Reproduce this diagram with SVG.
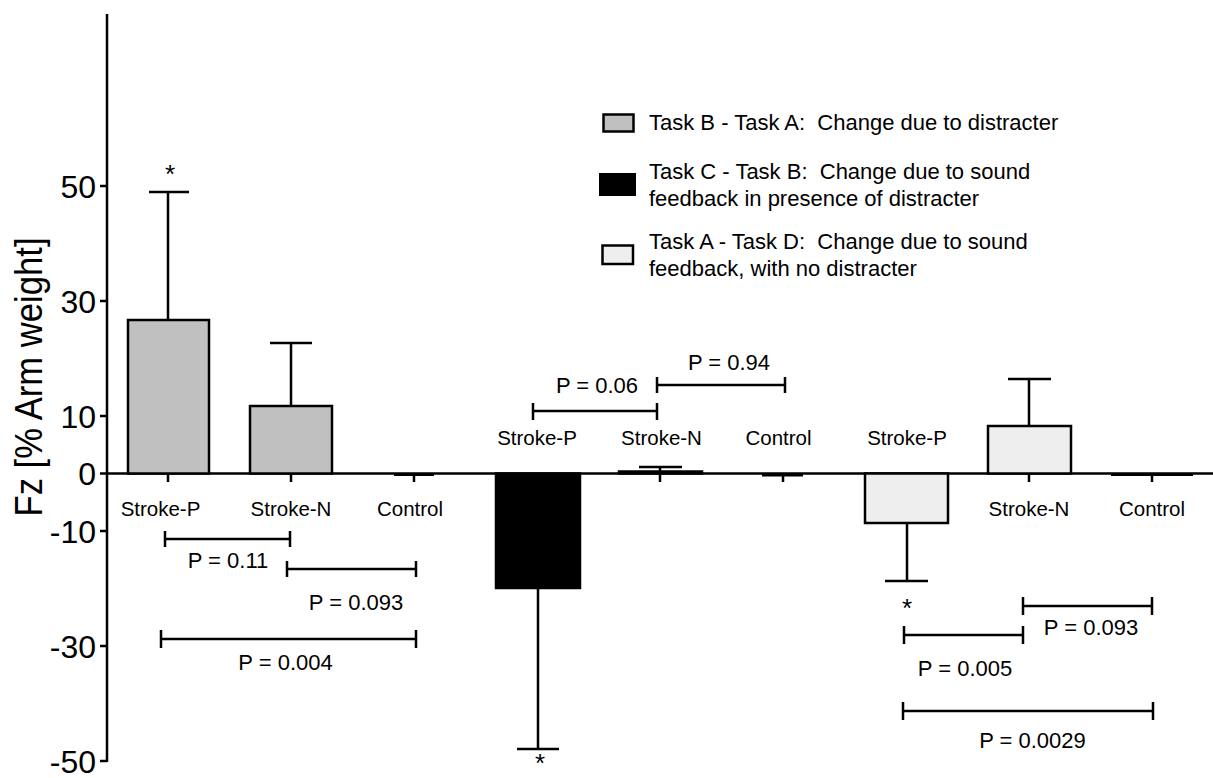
<svg xmlns="http://www.w3.org/2000/svg" width="1213" height="778" viewBox="0 0 1213 778">
<style>
text{font-family:"Liberation Sans",Arial,sans-serif;fill:#000}
.yl{font-size:32px;text-anchor:end}
.cat{font-size:20.5px;text-anchor:middle}
.pv{font-size:22px;text-anchor:middle}
.lg{font-size:22px}
.ast{font-size:26px;text-anchor:middle}
.ax{stroke:#000;stroke-width:2.5;fill:none}
.bar{stroke:#000;stroke-width:2.5}
.eb{stroke:#000;stroke-width:2.5;fill:none}
.br{stroke:#000;stroke-width:2.5;fill:none}
.g{fill:#c0c0c0}
.k{fill:#000}
.l{fill:#eeeeee}
</style>
<rect width="1213" height="778" fill="#fff"/>
<g id="axes">
<path class="ax" d="M107 14V762M107 473.5H1213"/>
<path class="ax" d="M100 186H107M100 301H107M100 416H107M100 473.5H107M100 531H107M100 646H107M100 761H107"/>
<path class="ax" d="M168 473V482M291 473V482M414 473V482M538 473V482M660 473V482M783 473V482M907 473V482M1029 473V482M1152 473V482"/>
<text class="yl" x="96" y="197.5">50</text>
<text class="yl" x="96" y="312.5">30</text>
<text class="yl" x="96" y="427.5">10</text>
<text class="yl" x="96" y="485">0</text>
<text class="yl" x="96" y="542.5">-10</text>
<text class="yl" x="96" y="657.5">-30</text>
<text class="yl" x="96" y="772.5">-50</text>
<text x="42" y="377" transform="rotate(-90 42 377)" style="font-size:39px;text-anchor:middle" textLength="279" lengthAdjust="spacingAndGlyphs">Fz [% Arm weight]</text>
</g>
<g id="group1">
<rect class="bar g" x="128" y="320" width="81" height="153.5"/>
<path class="eb" d="M168 320V192M149 192H189"/>
<text class="ast" x="170" y="183">*</text>
<rect class="bar g" x="250" y="406" width="82" height="67.5"/>
<path class="eb" d="M291 406V343M270 343H312"/>
<path class="eb" d="M394 474.5H434" style="stroke-width:3"/>
<text class="cat" x="160.5" y="516">Stroke-P</text>
<text class="cat" x="291" y="516">Stroke-N</text>
<text class="cat" x="410" y="516">Control</text>
</g>
<g id="group2">
<rect class="bar k" x="496" y="473.5" width="84" height="114.5"/>
<path class="eb" d="M538 588V749M517 749H559"/>
<text class="ast" x="540" y="772">*</text>
<rect class="bar" x="619" y="471.5" width="83" height="2" fill="#fff"/>
<path class="eb" d="M660 471V467M639 467H682"/>
<path class="eb" d="M762 475H803" style="stroke-width:3"/>
<text class="cat" x="537" y="445">Stroke-P</text>
<text class="cat" x="661.5" y="445">Stroke-N</text>
<text class="cat" x="778.5" y="445">Control</text>
</g>
<g id="group3">
<rect class="bar l" x="865" y="473.5" width="83" height="49.5"/>
<path class="eb" d="M907 523V581M885 581H928"/>
<text class="ast" x="907" y="617">*</text>
<rect class="bar l" x="988" y="426" width="83" height="47.5"/>
<path class="eb" d="M1029 426V379M1008 379H1051"/>
<path class="eb" d="M1111 474.5H1193" style="stroke-width:3"/>
<text class="cat" x="907" y="445">Stroke-P</text>
<text class="cat" x="1029" y="516">Stroke-N</text>
<text class="cat" x="1152" y="516">Control</text>
</g>
<g id="connectors">
<path class="br" d="M165 539H290M165 531V547M290 531V547"/>
<path class="br" d="M287 569H416M287 561V577M416 561V577"/>
<path class="br" d="M161 639H416M161 630V648M416 630V648"/>
<path class="br" d="M533 411H657M533 403V420M657 403V420"/>
<path class="br" d="M657 385H785M657 377V393M785 377V393"/>
<path class="br" d="M1023 606H1152M1023 597V615M1152 597V615"/>
<path class="br" d="M904 635H1023M904 626V644M1023 626V644"/>
<path class="br" d="M903 711H1153M903 702V720M1153 702V720"/>
</g>
<g id="pvalues">
<text class="pv" x="228" y="568">P = 0.11</text>
<text class="pv" x="356" y="610">P = 0.093</text>
<text class="pv" x="285.5" y="670">P = 0.004</text>
<text class="pv" x="597" y="393">P = 0.06</text>
<text class="pv" x="729" y="370">P = 0.94</text>
<text class="pv" x="1091" y="635">P = 0.093</text>
<text class="pv" x="965" y="676">P = 0.005</text>
<text class="pv" x="1032.5" y="748">P = 0.0029</text>
</g>
<g id="legend">
<rect class="bar g" x="603.5" y="114.5" width="30" height="17"/>
<text class="lg" x="649" y="130" xml:space="preserve">Task B - Task A:  Change due to distracter</text>
<rect x="599" y="173" width="37" height="23" fill="#000"/>
<text class="lg" x="649" y="179" xml:space="preserve">Task C - Task B:  Change due to sound</text>
<text class="lg" x="649" y="206">feedback in presence of distracter</text>
<rect class="bar l" x="602.5" y="245.5" width="30.5" height="18.5"/>
<text class="lg" x="649" y="249" xml:space="preserve">Task A - Task D:  Change due to sound</text>
<text class="lg" x="649" y="276">feedback, with no distracter</text>
</g>
</svg>
